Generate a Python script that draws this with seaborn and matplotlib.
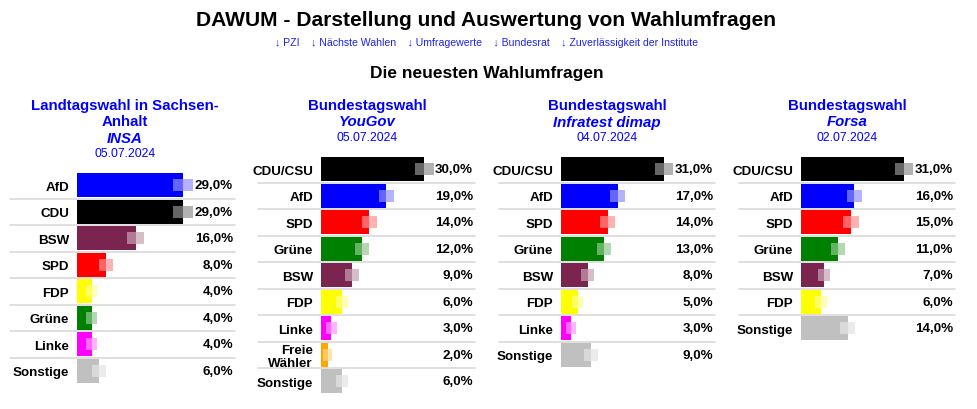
import matplotlib
matplotlib.use("Agg")
import matplotlib.pyplot as plt
import matplotlib.transforms as mtransforms
import seaborn as sns

# --- data ---
party_colors = {
    "CDU/CSU": "#000000", "CDU": "#000000", "AfD": "#0000ff", "SPD": "#ff0000",
    "Grüne": "#008000", "BSW": "#7b2450", "FDP": "#ffff00", "Linke": "#ff00ff",
    "Freie\nWähler": "#ffa500", "Sonstige": "#c0c0c0",
}

insa_head = "Landtagswahl in Sachsen-\nAnhalt"
insa_inst = "INSA"
insa_date = "05.07.2024"
insa_parties = ["AfD", "CDU", "BSW", "SPD", "FDP", "Grüne", "Linke", "Sonstige"]
insa_values = [29, 29, 16, 8, 4, 4, 4, 6]
insa_err = [2.7, 2.7, 2.3, 1.9, 1.6, 1.6, 1.6, 1.8]

yougov_head = "Bundestagswahl"
yougov_inst = "YouGov"
yougov_date = "05.07.2024"
yougov_parties = ["CDU/CSU", "AfD", "SPD", "Grüne", "BSW", "FDP", "Linke", "Freie\nWähler", "Sonstige"]
yougov_values = [30, 19, 14, 12, 9, 6, 3, 2, 6]
yougov_err = [2.8, 2.3, 2.2, 2.0, 1.9, 1.7, 1.5, 1.3, 1.7]

infratest_head = "Bundestagswahl"
infratest_inst = "Infratest dimap"
infratest_date = "04.07.2024"
infratest_parties = ["CDU/CSU", "AfD", "SPD", "Grüne", "BSW", "FDP", "Linke", "Sonstige"]
infratest_values = [31, 17, 14, 13, 8, 5, 3, 9]
infratest_err = [2.7, 2.3, 2.2, 2.1, 2.0, 1.7, 1.5, 2.0]

forsa_head = "Bundestagswahl"
forsa_inst = "Forsa"
forsa_date = "02.07.2024"
forsa_parties = ["CDU/CSU", "AfD", "SPD", "Grüne", "BSW", "FDP", "Sonstige"]
forsa_values = [31, 16, 15, 11, 7, 6, 14]
forsa_err = [2.7, 2.3, 2.3, 2.1, 1.8, 1.7, 2.3]

links = "↓ PZI    ↓ Nächste Wahlen    ↓ Umfragewerte    ↓ Bundesrat    ↓ Zuverlässigkeit der Institute"

sns.set_theme(style="white")
plt.rcParams["font.family"] = ["Liberation Sans", "DejaVu Sans"]

W, H = 978, 410
fig = plt.figure(figsize=(W / 100, H / 100), dpi=100)


def px(x, y):
    return x / W, 1 - y / H


fig.text(*px(486, 20), "DAWUM - Darstellung und Auswertung von Wahlumfragen",
         ha="center", va="center", fontsize=15.1, fontweight="bold", color="black")
fig.text(*px(487, 43), links, ha="center", va="center", fontsize=7.6, color="#2020ee")
fig.text(*px(487, 74), "Die neuesten Wahlumfragen",
         ha="center", va="center", fontsize=12.5, fontweight="bold", color="black")

ROW = 26.5
panels = [
    # head, inst, date, parties, values, err, bar_x0, value_right, top_y, line_left, title_cx
    (insa_head, insa_inst, insa_date, insa_parties, insa_values, insa_err, 77, 233, 173, 10, 125),
    (yougov_head, yougov_inst, yougov_date, yougov_parties, yougov_values, yougov_err, 321, 473, 157, 258, 367),
    (infratest_head, infratest_inst, infratest_date, infratest_parties, infratest_values, infratest_err, 561, 713, 157, 499, 607),
    (forsa_head, forsa_inst, forsa_date, forsa_parties, forsa_values, forsa_err, 801, 953, 157, 739, 847),
]

for head, inst, date, parties, values, err, x0, xr, top, lleft, cx in panels:
    # panel heading
    y = 106
    for line in head.split("\n"):
        fig.text(*px(cx, y), line, ha="center", va="center", fontsize=10.8,
                 fontweight="bold", color="#0000ff")
        y += 16.5
    fig.text(*px(cx, y), inst, ha="center", va="center", fontsize=10.8,
             fontweight="bold", fontstyle="italic", color="#0000ff")
    y += 15.5
    fig.text(*px(cx, y), date, ha="center", va="center", fontsize=8.8, color="#0000ff")

    n = len(parties)
    width = xr - x0
    height = n * ROW
    ax = fig.add_axes([x0 / W, 1 - (top + height) / H, width / W, height / H])
    colors = [party_colors[p] for p in parties]
    sns.barplot(x=values, y=parties, hue=parties, palette=colors, legend=False,
                orient="h", width=0.9, saturation=1, linewidth=0, ax=ax)
    # uncertainty box around the bar end
    lo = [v - e for v, e in zip(values, err)]
    ax.barh(range(n), err, left=lo, height=0.45, color="white", alpha=0.4, linewidth=0)
    ax.barh(range(n), err, left=values, height=0.45, color=colors, alpha=0.3, linewidth=0)

    ax.set_xlim(0, max(values) * 1.47)
    ax.set_ylim(n - 0.5, -0.5)
    ax.set_xlabel("")
    ax.set_ylabel("")
    ax.set_xticks([])
    for s in ax.spines.values():
        s.set_visible(False)
    ax.tick_params(axis="y", length=0, pad=5.8)
    for t in ax.get_yticklabels():
        t.set_fontweight("bold")
        t.set_fontsize(9.6)
        t.set_color("black")
        t.set_linespacing(1.12)
        t.set_multialignment("right")

    trans = mtransforms.blended_transform_factory(ax.transAxes, ax.transData)
    for i, v in enumerate(values):
        ax.text(1.0, i, f"{v:.1f}".replace(".", ",") + "%", transform=trans,
                ha="right", va="center", fontsize=9.6, fontweight="bold", color="black")
    lf = (lleft - x0) / width
    rf = (xr + 2 - x0) / width
    for i in range(n - 1):
        ax.plot([lf, rf], [i + 0.5, i + 0.5], transform=trans, color="#d6d6d6",
                lw=1.1, clip_on=False)

fig.savefig("out.png", dpi=100)
